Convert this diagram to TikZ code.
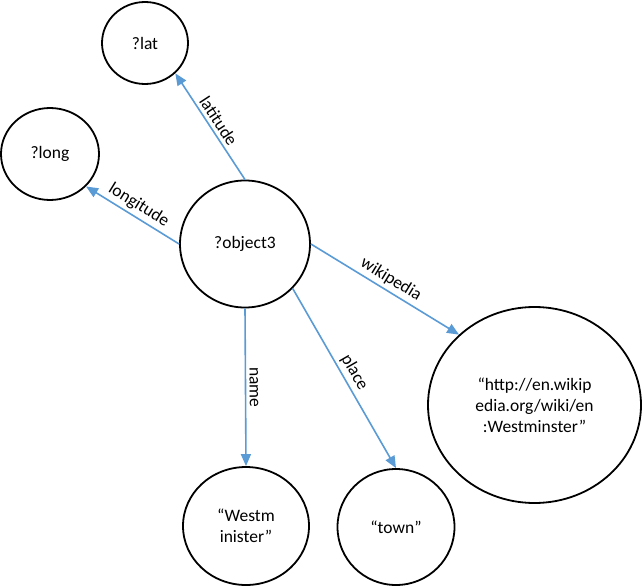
\documentclass[tikz,border=0pt]{standalone}
\usepackage{fontspec}
\setmainfont{Carlito}
\usetikzlibrary{shapes.geometric,arrows.meta}
\definecolor{edgeblue}{HTML}{5B9BD5}
\begin{document}
\begin{tikzpicture}[x=1pt, y=-1pt, >={Triangle[length=12pt,width=10pt]}, font=\fontsize{17.5}{21}\selectfont]
        \tikzstyle{var}=[draw, ellipse, line width=1.8pt, inner sep=0pt, align=center];
        \tikzstyle{edge}=[->, draw=edgeblue, line width=1.6pt];

        \useasboundingbox (0,0) rectangle (642,586);

        \node[var, minimum width=86pt, minimum height=82pt] (lat) at (145,43) {?lat};
        \node[var, minimum width=98pt, minimum height=92pt] (long) at (50,154) {?long};
        \node[var, minimum width=130pt, minimum height=127pt] (obj) at (245,244) {?object3};
        \node[var, minimum width=126pt, minimum height=118pt] (westm) at (246,526) {“Westm\\inister”};
        \node[var, minimum width=117pt, minimum height=116pt] (town) at (396,527) {“town”};
        \node[var, minimum width=213pt, minimum height=196pt] (wiki) at (534.5,405) {“http://en.wikip\\edia.org/wiki/en\\:Westminster”};

        \draw[edge] (obj.north) -- node[sloped, above] {latitude} (lat.-45);
        \draw[edge] (obj.west) -- node[sloped, above] {longitude} (long.-42);
        \draw[edge] (obj.east) -- node[sloped, above] {wikipedia} (wiki.137);
        \draw[edge] (obj.south) -- node[sloped, above] {name} (westm.north);
        \draw[edge] (obj.-43) -- node[sloped, above] {place} (town.north);
    \end{tikzpicture}
\end{document}
